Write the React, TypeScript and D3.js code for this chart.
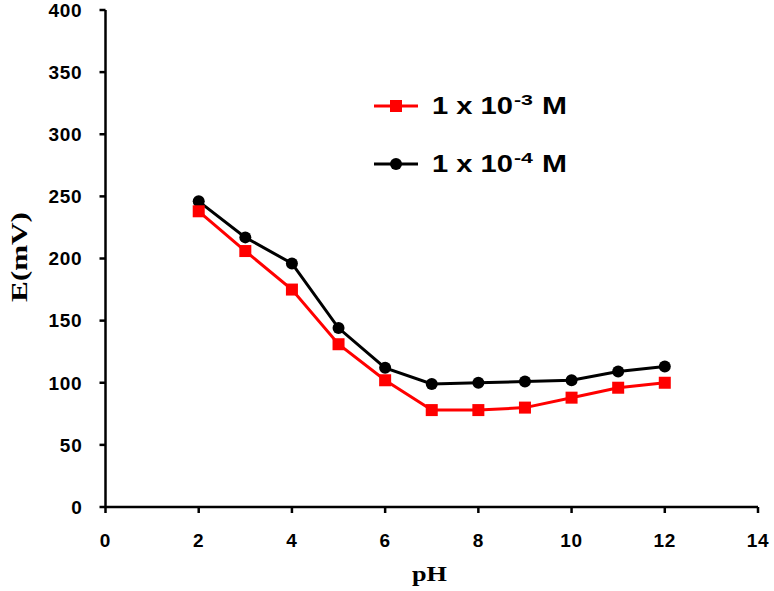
import * as d3 from 'd3';

const W = 774;
const H = 591;

const phValues = [2, 3, 4, 5, 6, 7, 8, 9, 10, 11, 12];
const series3 = [238, 206, 175, 131, 102, 78, 78, 80, 88, 96, 100];
const series4 = [246, 217, 196, 144, 112, 99, 100, 101, 102, 109, 113];
const xTicks = [0, 2, 4, 6, 8, 10, 12, 14];
const yTicks = [0, 50, 100, 150, 200, 250, 300, 350, 400];
const legendItems = [
  { base: '1 x 10', exp: '-3', color: '#ff0000', marker: 'square' },
  { base: '1 x 10', exp: '-4', color: '#000000', marker: 'circle' },
];

const margin = { left: 105.5, right: 16, top: 10, bottom: 84 };

const tickFont = "'Liberation Sans', Arial, sans-serif";
const titleFont = "'Liberation Serif', 'Times New Roman', serif";

export default function App() {
  const x = d3.scaleLinear().domain([0, 14]).range([margin.left, W - margin.right]);
  const y = d3.scaleLinear().domain([0, 400]).range([H - margin.bottom, margin.top]);

  const line = d3
    .line<number>()
    .x((_, i) => x(phValues[i]))
    .y((d) => y(d));

  const x0 = x(0);
  const y0 = y(0);

  return (
    <div style={{ position: 'fixed', left: 0, top: 0 }}>
      <svg width={W} height={H} style={{ display: 'block', background: '#fff' }}>
        {/* axes */}
        <line x1={x0} x2={x(14)} y1={y0} y2={y0} stroke="#000" strokeWidth={2.5} />
        <line x1={x0} x2={x0} y1={y(400)} y2={y0} stroke="#000" strokeWidth={2.5} />
        {yTicks.map((t) => (
          <g key={'y' + t}>
            <line x1={x0 - 6} x2={x0} y1={y(t)} y2={y(t)} stroke="#000" strokeWidth={2.5} />
            <text
              x={x0 - 23}
              y={y(t)}
              dy="0.36em"
              textAnchor="end"
              fontFamily={tickFont}
              fontWeight="bold"
              fontSize={19}
              letterSpacing={0.8}
            >
              {t}
            </text>
          </g>
        ))}
        {xTicks.map((t) => (
          <g key={'x' + t}>
            <line x1={x(t)} x2={x(t)} y1={y0} y2={y0 + 6} stroke="#000" strokeWidth={2.5} />
            <text
              x={x(t)}
              y={y0 + 33}
              dy="0.36em"
              textAnchor="middle"
              fontFamily={tickFont}
              fontWeight="bold"
              fontSize={19}
              letterSpacing={0.8}
            >
              {t}
            </text>
          </g>
        ))}

        {/* axis titles */}
        <text
          transform={`translate(27, 257) rotate(-90)`}
          x={-45}
          fontFamily={titleFont}
          fontWeight="bold"
          fontSize={23}
          textLength={90}
          lengthAdjust="spacingAndGlyphs"
        >
          E(mV)
        </text>
        <text
          x={412}
          y={581}
          fontFamily={titleFont}
          fontWeight="bold"
          fontSize={21}
          textLength={35}
          lengthAdjust="spacingAndGlyphs"
        >
          pH
        </text>

        {/* 1e-4 series */}
        <path d={line(series4) ?? ''} fill="none" stroke="#000" strokeWidth={3} />
        {series4.map((v, i) => (
          <circle key={'b' + i} cx={x(phValues[i])} cy={y(v)} r={6} fill="#000" />
        ))}

        {/* 1e-3 series */}
        <path d={line(series3) ?? ''} fill="none" stroke="#ff0000" strokeWidth={3} />
        {series3.map((v, i) => (
          <rect
            key={'r' + i}
            x={x(phValues[i]) - 6}
            y={y(v) - 6}
            width={12}
            height={12}
            fill="#ff0000"
          />
        ))}

        {/* legend */}
        <g fontFamily={tickFont} fontWeight="bold">
          {legendItems.map((it, i) => {
            const cy = 106 + i * 58;
            return (
              <g key={it.exp}>
                <line x1={374} x2={418} y1={cy} y2={cy} stroke={it.color} strokeWidth={3} />
                {it.marker === 'square' ? (
                  <rect x={390} y={cy - 6} width={12} height={12} fill={it.color} />
                ) : (
                  <circle cx={396} cy={cy} r={6} fill={it.color} />
                )}
                <text
                  x={432}
                  y={cy + 7.5}
                  fontSize={23}
                  textLength={81}
                  lengthAdjust="spacingAndGlyphs"
                >
                  {it.base}
                </text>
                <text x={514} y={cy - 1} fontSize={15} textLength={19} lengthAdjust="spacingAndGlyphs">
                  {it.exp}
                </text>
                <text
                  x={542}
                  y={cy + 7.5}
                  fontSize={23}
                  textLength={25}
                  lengthAdjust="spacingAndGlyphs"
                >
                  M
                </text>
              </g>
            );
          })}
        </g>
      </svg>
    </div>
  );
}
